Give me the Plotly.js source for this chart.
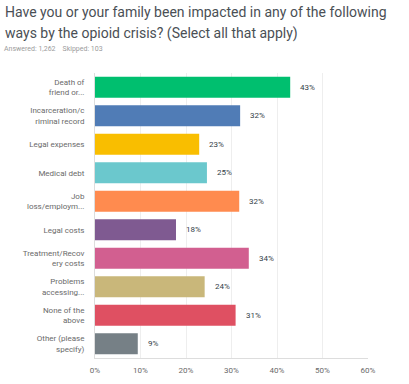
<!DOCTYPE html>
<html>
<head>
<meta charset="utf-8">
<script src="https://cdn.plot.ly/plotly-3.0.1.min.js"></script>
<style>html,body{margin:0;padding:0;background:#fff;}#chart{width:409px;height:384px;}</style>
</head>
<body>
<div id="chart"></div>
<script>
const categories = ["Death of<br>friend or...", "Incarceration/c<br>riminal record", "Legal expenses", "Medical debt", "Job<br>loss/employm...", "Legal costs", "Treatment/Recov<br>ery costs", "Problems<br>accessing...", "None of the<br>above", "Other (please<br>specify)"];
const values = [42.9, 31.9, 22.9, 24.6, 31.7, 17.8, 33.8, 24.1, 30.9, 9.4];
const labels = ["43%", "32%", "23%", "25%", "32%", "18%", "34%", "24%", "31%", "9%"];
const colors = ["#00bf6f", "#507cb6", "#f9be00", "#6bc8cd", "#ff8b4f", "#7f5a91", "#d25f90", "#c9b77a", "#df5062", "#768086"];
const xTickVals = [0, 10, 20, 30, 40, 50, 60];
const xTickText = ["0%", "10%", "20%", "30%", "40%", "50%", "60%"];
const titleLines = ["Have you or your family been impacted in any of the following", "ways by the opioid crisis? (Select all that apply)"];
const subtitle = "Answered: 1,262&nbsp;&nbsp;&nbsp;&nbsp;Skipped: 103";

const trace = {
  type: "bar", orientation: "h",
  x: values, y: categories,
  marker: {color: colors, line: {width: 0}},
  hoverinfo: "none"
};

const annotations = values.map((v, i) => ({
  x: v, y: categories[i], xref: "x", yref: "y",
  text: labels[i], showarrow: false, xanchor: "left", xshift: 8,
  font: {family: "Roboto, sans-serif", size: 8, color: "#333e48"}
}));
const titleShifts = [61, 40];
titleLines.forEach((t, i) => annotations.push({
  xref: "paper", yref: "paper", x: -95/273, y: 1, xshift: 3, yshift: titleShifts[i],
  xanchor: "left", yanchor: "middle", text: t, showarrow: false,
  font: {family: "Roboto, sans-serif", size: 14, color: "#4a4f55"}
}));
annotations.push({
  xref: "paper", yref: "paper", x: -95/273, y: 1, xshift: 2, yshift: 24, xanchor: "left", yanchor: "middle",
  text: subtitle, showarrow: false,
  font: {family: "Roboto, sans-serif", size: 7, color: "#9b9b9b"}
});

const layout = {
  width: 409, height: 384,
  margin: {l: 95, r: 41, t: 73, b: 26},
  paper_bgcolor: "#fff", plot_bgcolor: "#fff",
  showlegend: false,
  bargap: 0.26,
  xaxis: {
    range: [0, 60], tickvals: xTickVals, ticktext: xTickText,
    showgrid: true, gridcolor: "#eeeeee", gridwidth: 1,
    zeroline: false, showline: true, linecolor: "#dddddd", linewidth: 1,
    ticks: "outside", ticklen: 4, tickcolor: "rgba(0,0,0,0)",
    tickfont: {family: "Roboto, sans-serif", size: 8, color: "#6a6a6a"},
    fixedrange: true
  },
  yaxis: {
    autorange: "reversed", type: "category",
    showgrid: false, zeroline: false, showline: true, linecolor: "#dddddd", linewidth: 1,
    ticks: "outside", ticklen: 8, tickcolor: "rgba(0,0,0,0)",
    tickfont: {family: "Roboto, sans-serif", size: 8, color: "#6a6a6a"},
    fixedrange: true
  },
  annotations: annotations
};

Plotly.newPlot("chart", [trace], layout, {displayModeBar: false, staticPlot: true});
</script>
</body>
</html>
